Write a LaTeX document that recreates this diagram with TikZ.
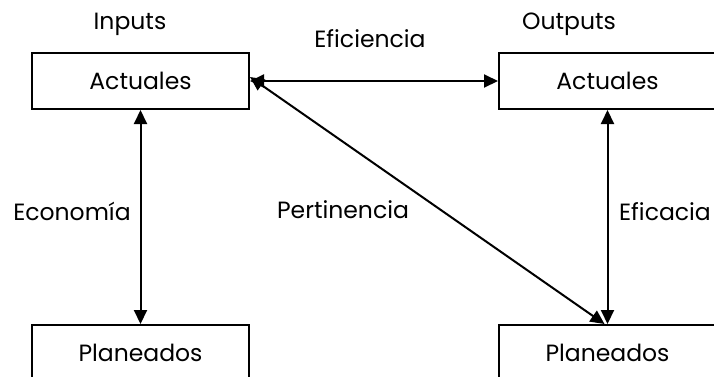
\documentclass[tikz,border=0pt]{standalone}
\usepackage{fontspec}
\setmainfont{Poppins}
\usetikzlibrary{arrows.meta}
\begin{document}
\begin{tikzpicture}[x=1pt,y=-1pt,
  box/.style={draw,line width=2pt,minimum width=217pt,minimum height=56pt,inner sep=0pt,font=\fontsize{23.5}{28}\selectfont},
  lbl/.style={font=\fontsize{23.5}{28}\selectfont,inner sep=0pt},
  link/.style={line width=2pt,{Triangle[length=14pt,width=13pt]}-{Triangle[length=14pt,width=13pt]}}]
\useasboundingbox (0,0) rectangle (714,376);
\begin{scope}
\clip (0,0) rectangle (714,376);
\node[box] (la) at (140.5,81) {Actuales};
\node[box] (ra) at (607.5,81) {Actuales};
\node[box] (lp) at (140.5,353) {Planeados};
\node[box] (rp) at (607.5,353) {Planeados};
\end{scope}
\node[lbl] (tin) at (130,24) {Inputs};
\node[lbl] (tout) at (569,24) {Outputs};
\node[lbl] (tef) at (370,39) {Eficiencia};
\node[lbl] (tec) at (72,211) {Economía};
\node[lbl] (tper) at (343,210) {Pertinencia};
\node[lbl] (tefc) at (665,212) {Eficacia};
\draw[link] (la.east) -- (ra.west);
\draw[link] (la.south) -- (lp.north);
\draw[link] (ra.south) -- (rp.north);
\draw[link] ([yshift=4pt]la.east) -- ([xshift=-3pt]rp.north);
\end{tikzpicture}
\end{document}
